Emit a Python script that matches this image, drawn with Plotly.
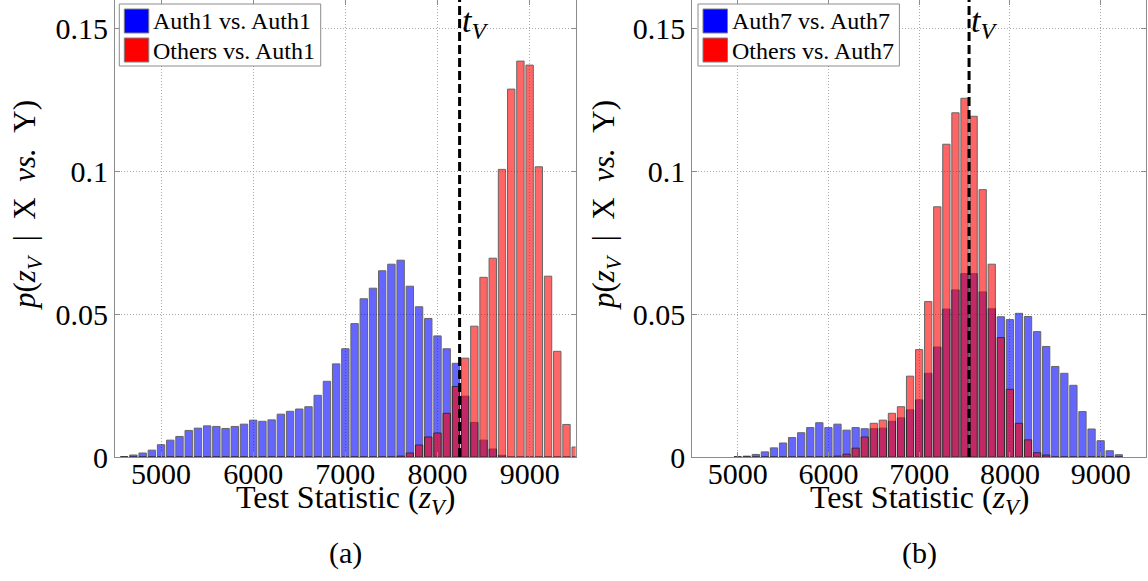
import plotly.graph_objects as go

# ---- data -------------------------------------------------------------
# histogram bin centres (bin width 100)
bins_a = list(range(4600, 9600, 100))
bins_b = list(range(5000, 9300, 100))

# (a) Auth1 vs. Auth1 and Others vs. Auth1
auth1_vs_auth1 = [
    0.0001, 0.0007, 0.0014, 0.0024, 0.0043, 0.0059, 0.0072, 0.0093, 0.0101, 0.0109,
    0.0107, 0.0100, 0.0107, 0.0115, 0.0129, 0.0125, 0.0130, 0.0150, 0.0160, 0.0168,
    0.0176, 0.0216, 0.0265, 0.0326, 0.0379, 0.0467, 0.0554, 0.0591, 0.0652, 0.0675,
    0.0689, 0.0598, 0.0526, 0.0485, 0.0424, 0.0379, 0.0328, 0.0213, 0.0121, 0.0059,
    0.0028, 0.0006, 0.0, 0.0, 0.0, 0.0, 0.0, 0.0, 0.0, 0.0,
]
others_vs_auth1 = [
    0.0, 0.0, 0.0, 0.0, 0.0, 0.0, 0.0, 0.0, 0.0, 0.0,
    0.0, 0.0, 0.0, 0.0, 0.0, 0.0, 0.0, 0.0, 0.0, 0.0,
    0.0, 0.0, 0.0, 0.0, 0.0, 0.0, 0.0, 0.0, 0.0, 0.0,
    0.0003, 0.0014, 0.0042, 0.0070, 0.0084, 0.0153, 0.0247, 0.0346, 0.0458, 0.0629,
    0.0696, 0.1007, 0.1288, 0.1386, 0.1372, 0.1016, 0.0633, 0.0370, 0.0114, 0.0035,
]

# (b) Auth7 vs. Auth7 and Others vs. Auth7
auth7_vs_auth7 = [
    0.0001, 0.0003, 0.0009, 0.0018, 0.0032, 0.0049, 0.0068, 0.0085, 0.0103, 0.0120,
    0.0103, 0.0115, 0.0094, 0.0103, 0.0099, 0.0099, 0.0101, 0.0125, 0.0137, 0.0165,
    0.0200, 0.0293, 0.0385, 0.0518, 0.0585, 0.0642, 0.0642, 0.0578, 0.0519, 0.0491,
    0.0481, 0.0503, 0.0492, 0.0439, 0.0387, 0.0317, 0.0293, 0.0251, 0.0159, 0.0098,
    0.0057, 0.0022, 0.0008,
]
others_vs_auth7 = [
    0.0, 0.0, 0.0, 0.0, 0.0, 0.0, 0.0, 0.0, 0.0, 0.0,
    0.0, 0.0003, 0.0010, 0.0031, 0.0070, 0.0118, 0.0129, 0.0153, 0.0176, 0.0283,
    0.0376, 0.0544, 0.0876, 0.1095, 0.1205, 0.1256, 0.1193, 0.0936, 0.0675, 0.0418,
    0.0237, 0.0118, 0.0060, 0.0015, 0.0007, 0.0, 0.0, 0.0, 0.0, 0.0,
    0.0, 0.0, 0.0,
]

# decision thresholds t_V
threshold_a = 8240
threshold_b = 7550

x_ticks = [5000, 6000, 7000, 8000, 9000]
y_ticks = [0, 0.05, 0.1, 0.15]
y_tick_text = ["0", "0.05", "0.1", "0.15"]

names_a = ["Auth1 vs. Auth1", "Others vs. Auth1"]
names_b = ["Auth7 vs. Auth7", "Others vs. Auth7"]
series_colours = ["blue", "red"]

# ---- figure -----------------------------------------------------------
FONT = "Liberation Serif"
W, H = 1148, 581
MB = 124                 # bottom margin (room for titles and captions)
PH = H - MB              # plot-area height in px


def px_x(px):
    """Pixel column -> paper x."""
    return px / W


def px_y(px):
    """Pixel row (from the top of the page) -> paper y."""
    return 1 - px / PH


fig = go.Figure()


def add_panel(xa, ya, bins, series, names):
    for vals, colour, name in zip(series, series_colours, names):
        fig.add_trace(go.Bar(
            x=bins, y=vals, width=80, xaxis=xa, yaxis=ya,
            marker=dict(color=colour, line=dict(color="black", width=1)),
            opacity=0.6, showlegend=False, name=name,
        ))


add_panel("x", "y", bins_a, [auth1_vs_auth1, others_vs_auth1], names_a)
add_panel("x2", "y2", bins_b, [auth7_vs_auth7, others_vs_auth7], names_b)

axis_common = dict(
    showline=True, linecolor="#8c8c8c", linewidth=1, mirror="ticks",
    ticks="inside", ticklen=5, tickcolor="#8c8c8c",
    showgrid=True, gridcolor="#a8a8a8", griddash="1px,2px", gridwidth=1,
    zeroline=False, tickfont=dict(family=FONT, size=30, color="black"),
)

fig.update_layout(
    width=W, height=H,
    margin=dict(l=0, r=0, t=0, b=MB),
    plot_bgcolor="white", paper_bgcolor="white",
    barmode="overlay", showlegend=False,
    font=dict(family=FONT, size=24, color="black"),
    xaxis=dict(domain=[px_x(115), px_x(575.7)], range=[4500, 9500],
               tickvals=x_ticks, anchor="y", ticklabelstandoff=-10, **axis_common),
    yaxis=dict(domain=[0, 1], range=[0, 0.16], tickvals=y_ticks,
               ticktext=y_tick_text, anchor="x", **axis_common),
    xaxis2=dict(domain=[px_x(692.3), px_x(1146)], range=[4500, 9500],
                tickvals=x_ticks, anchor="y2", ticklabelstandoff=-10, **axis_common),
    yaxis2=dict(domain=[0, 1], range=[0, 0.16], tickvals=y_ticks,
                ticktext=y_tick_text, anchor="x2", **axis_common),
)

# threshold lines with their labels
for xref, yref, t in (("x", "y", threshold_a), ("x2", "y2", threshold_b)):
    fig.add_shape(type="line", xref=xref, yref=f"{yref} domain",
                  x0=t, x1=t, y0=0, y1=1,
                  line=dict(color="black", width=3, dash="9px,4px"))
    fig.add_annotation(x=t, xref=xref, y=1, yref=f"{yref} domain",
                       text="<i>t</i><sub><i>V</i></sub>", showarrow=False,
                       xanchor="left", yanchor="top",
                       font=dict(family=FONT, size=34, color="black"))


# boxed legends in the top-left corner of each panel
def add_legend(left, names):
    fig.add_shape(type="rect", xref="paper", yref="paper", layer="above",
                  x0=px_x(left), x1=px_x(left + 201.4), y0=px_y(4), y1=px_y(66),
                  line=dict(color="#8c8c8c", width=1), fillcolor="white")
    for i, (colour, name) in enumerate(zip(series_colours, names)):
        top = 9 + 29 * i
        fig.add_shape(type="rect", xref="paper", yref="paper", layer="above",
                      x0=px_x(left + 5), x1=px_x(left + 29.5),
                      y0=px_y(top), y1=px_y(top + 24),
                      line=dict(color="#808080", width=1), fillcolor=colour)
        fig.add_annotation(x=px_x(left + 32), y=px_y(top + 12.5),
                           xref="paper", yref="paper", text=name,
                           showarrow=False, xanchor="left", yanchor="middle",
                           font=dict(family=FONT, size=24, color="black"))


add_legend(119.3, names_a)
add_legend(698.0, names_b)

# axis titles and panel captions
NB = "\u00a0"
x_title = "Test Statistic (<i>z</i><sub><i>V</i></sub>)"
y_title = (f"<i>p</i>(<i>z</i><sub><i>V</i></sub>{NB} |{NB}{NB}X{NB}{NB}"
           f"<i>vs.</i>{NB}{NB}Y)")
for cx, yx, label in ((345.4, 27, "(a)"), (919.2, 606, "(b)")):
    fig.add_annotation(x=px_x(cx), y=px_y(500), xref="paper", yref="paper",
                       text=x_title, showarrow=False, xanchor="center",
                       yanchor="middle",
                       font=dict(family=FONT, size=32, color="black"))
    fig.add_annotation(x=px_x(yx), y=px_y(205), xref="paper", yref="paper",
                       text=y_title, showarrow=False, textangle=-90,
                       xanchor="center", yanchor="middle",
                       font=dict(family=FONT, size=31, color="black"))
    fig.add_annotation(x=px_x(cx), y=px_y(553), xref="paper", yref="paper",
                       text=label, showarrow=False, xanchor="center",
                       yanchor="middle",
                       font=dict(family=FONT, size=30, color="black"))

fig.write_html("out.html")
